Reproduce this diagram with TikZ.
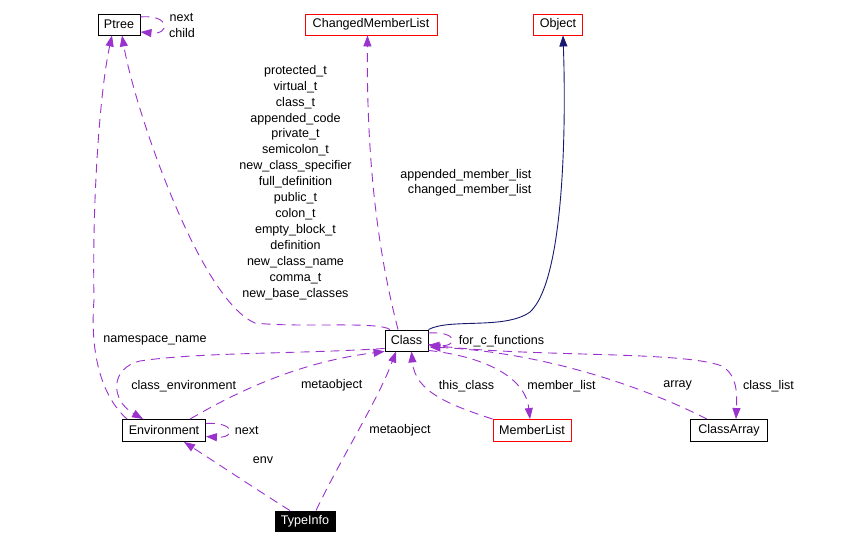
\documentclass[tikz,border=0pt]{standalone}
\usepackage{fontspec}
\setmainfont{Liberation Sans}
\usetikzlibrary{arrows.meta,calc}
\definecolor{edgepurple}{RGB}{154,50,205}
\definecolor{edgenavy}{RGB}{25,25,112}
\definecolor{boxred}{RGB}{255,0,0}
\begin{document}
\begin{tikzpicture}[x=1bp,y=-1bp,
  every node/.style={font=\fontsize{12.6}{16}\selectfont, inner sep=0pt},
  cbox/.style={draw=black, line width=0.9bp, rectangle, minimum height=21bp},
  redbox/.style={cbox, draw=boxred},
  blackbox/.style={cbox, fill=black, text=white},
  lbl/.style={align=center},
  dep/.style={draw=edgepurple, line width=0.9bp, dash pattern=on 9bp off 6bp, -{Triangle[length=11bp,width=8bp]}},
  inh/.style={draw=edgenavy, line width=0.9bp, -{Triangle[length=11bp,width=8bp]}}
]
\fill[white] (0,0) rectangle (849,545);
\useasboundingbox (0,0) rectangle (849,545);

% nodes
\node[cbox, minimum width=42bp] (ptree) at (119,24.5) {Ptree};
\node[redbox, minimum width=132bp] (cml) at (371,24.5) {ChangedMemberList};
\node[redbox, minimum width=49bp] (obj) at (558,24.5) {Object};
\node[cbox, minimum width=43bp] (cls) at (406.5,340.5) {Class};
\node[cbox, minimum width=83bp, minimum height=22bp] (env) at (164,430.5) {Environment};
\node[redbox, minimum width=78bp, minimum height=22bp] (ml) at (532,430.5) {MemberList};
\node[cbox, minimum width=77bp, minimum height=22bp] (ca) at (729,430.5) {ClassArray};
\node[blackbox, minimum width=60bp, minimum height=20bp] (ti) at (305,521) {TypeInfo};

% Ptree self loop
\draw[dep] ($(ptree.east)+(0,-7.5)$) .. controls +(30,-3) and +(30,3) .. ($(ptree.east)+(0,7.5)$);
\node (lnext) at (181.5,18) {next};
\node (lchild) at (182,33) {child};

% Class -> Ptree
\draw[dep] ($(cls.north)+(-16.5,0)$) .. controls (378,321) and (300,328) .. (255,323)
  .. controls (200,300) and (135,110) .. ($(ptree.south)+(3,0)$);
\node[lbl] (lptree) at (295.5,182.5) {protected\_t\\virtual\_t\\class\_t\\appended\_code\\private\_t\\semicolon\_t\\new\_class\_specifier\\full\_definition\\public\_t\\colon\_t\\empty\_block\_t\\definition\\new\_class\_name\\comma\_t\\new\_base\_classes};

% Environment -> Ptree
\draw[dep] ($(env.north west)+(5,0)$) .. controls (100,395) and (90,350) .. (94,300)
  .. controls (92,200) and (100,90) .. ($(ptree.south)+(-7,0)$);
\node (lns) at (155,340.7) {namespace\_name};

% Class -> ChangedMemberList
\draw[dep] ($(cls.north)+(-8.5,0)$) .. controls (388,290) and (366,200) .. ($(cml.south)+(-3.5,0)$);
\node[anchor=east] (lapp) at (531.7,175) {appended\_member\_list};
\node[anchor=east] (lchg) at (531.7,190) {changed\_member\_list};

% Class -> Object
\draw[inh] (cls.north east) .. controls (450,318) and (505,330) .. (530,312)
  .. controls (565,280) and (566,120) .. ($(obj.south)+(5,0)$);

% Class self loop
\draw[dep] ($(cls.east)+(0,-7.5)$) .. controls +(30,-2) and +(30,2) .. ($(cls.east)+(0,4.5)$);
\node (lcf) at (501.5,340.7) {for\_c\_functions};

% Class -> Environment (class_environment)
\draw[dep] ($(cls.south west)+(0,-3)$) .. controls (300,354) and (200,352) .. (140,361)
  .. controls (110,368) and (110,400) .. ($(env.north west)+(21,0)$);
\node (lce) at (183.7,385.7) {class\_environment};

% Environment -> Class (metaobject)
\draw[dep] ($(env.north)+(26,0)$) .. controls (240,390) and (300,362) .. (cls.south west);
\node (lmo1) at (331.7,385.7) {metaobject};

% TypeInfo -> Class (metaobject)
\draw[dep] ($(ti.north)+(11,0)$) .. controls (340,460) and (378,400) .. ($(cls.south)+(-10.5,0)$);
\node (lmo2) at (400,430.7) {metaobject};

% TypeInfo -> Environment (env)
\draw[dep] ($(ti.north)+(-15,0)$) .. controls (265,495) and (215,462) .. ($(env.south)+(20,0)$);
\node (lenv) at (263,460) {env};

% Environment self loop
\draw[dep] ($(env.east)+(0,-7)$) .. controls +(30,-2) and +(30,2) .. ($(env.east)+(0,6)$);
\node (lnext2) at (246.7,430.5) {next};

% MemberList -> Class (this_class)
\draw[dep] (ml.north west) .. controls (450,405) and (415,392) .. ($(cls.south)+(5,0)$);
\node (ltc) at (466.5,385.7) {this\_class};

% Class -> MemberList (member_list)
\draw[dep] ($(cls.south east)+(0,-1)$) .. controls (480,356) and (525,375) .. ($(ml.north)+(-2,0)$);
\node (lml) at (561.5,385.7) {member\_list};

% ClassArray -> Class (array)
\draw[dep] ($(ca.north)+(-22,0)$) .. controls (640,385) and (540,352) .. ($(cls.east)+(1,6.5)$);
\node (larr) at (677.7,385.7) {array};

% Class -> ClassArray (class_list)
\draw[dep] ($(cls.east)+(0,4)$) .. controls (520,358) and (680,350) .. (722,366)
  .. controls (738,376) and (737,395) .. ($(ca.north)+(7,0)$);
\node (lcl) at (768.5,385.7) {class\_list};
\end{tikzpicture}
\end{document}
